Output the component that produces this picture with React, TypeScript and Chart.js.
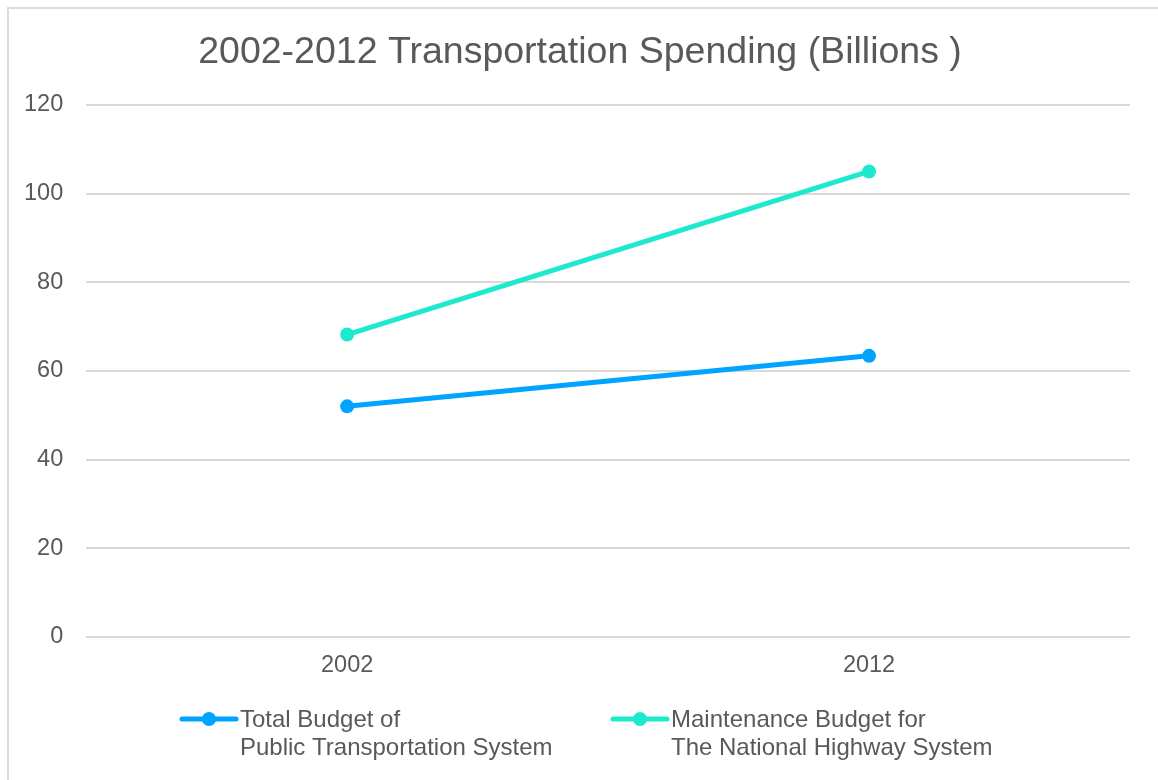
import React, { useEffect, useRef } from "react";
import { Chart, registerables } from "chart.js";

Chart.register(...registerables);

const categories = ["2002", "2012"];
const publicTransit = [52, 63.4];
const highwayMaintenance = [68.2, 105];
const seriesNames = ["Total Budget of Public Transportation System", "Maintenance Budget for The National Highway System"];
const legendLines = [
  ["Total Budget of", "Public Transportation System"],
  ["Maintenance Budget for", "The National Highway System"],
];
const yTicks = [0, 20, 40, 60, 80, 100, 120];
const titleText = "2002-2012 Transportation Spending (Billions )";

const BLUE = "#00a3ff";
const TEAL = "#1de9cf";
const TEXT = "#595959";
const GRID = "#d9d9d9";
const FONT = "'Liberation Sans', Arial, sans-serif";

const frameAndLegend = {
  id: "frameAndLegend",
  afterLayout(chart: any) {
    const t = chart.titleBlock;
    if (t) {
      t.left += 14.5;
      t.right += 14.5;
    }
  },
  beforeDraw(chart: any) {
    const ctx = chart.ctx;
    ctx.save();
    ctx.fillStyle = "#ffffff";
    ctx.fillRect(0, 0, chart.width, chart.height);
    ctx.strokeStyle = "#dcdcdc";
    ctx.lineWidth = 2;
    ctx.strokeRect(8, 8, chart.width + 20, chart.height + 20);
    ctx.restore();
  },
  afterDraw(chart: any) {
    const ctx = chart.ctx;
    const starts = [182, 613];
    const y = 719;
    ctx.save();
    chart.data.datasets.forEach((ds: any, i: number) => {
      const x0 = starts[i];
      ctx.strokeStyle = ds.borderColor;
      ctx.lineWidth = 5;
      ctx.lineCap = "round";
      ctx.beginPath();
      ctx.moveTo(x0, y);
      ctx.lineTo(x0 + 54, y);
      ctx.stroke();
      ctx.fillStyle = ds.borderColor;
      ctx.beginPath();
      ctx.arc(x0 + 27, y, 7, 0, Math.PI * 2);
      ctx.fill();
      ctx.fillStyle = TEXT;
      ctx.font = `24px ${FONT}`;
      ctx.textBaseline = "middle";
      ctx.textAlign = "left";
      legendLines[i].forEach((line, j) => {
        ctx.fillText(line, x0 + 58, y + 1 + j * 28);
      });
    });
    ctx.restore();
  },
};

export default function App() {
  const ref = useRef<HTMLCanvasElement | null>(null);
  useEffect(() => {
    if (!ref.current) return;
    const chart = new Chart(ref.current, {
      type: "line",
      data: {
        labels: categories,
        datasets: [
          {
            label: seriesNames[0],
            data: publicTransit,
            borderColor: BLUE,
            backgroundColor: BLUE,
            borderWidth: 5,
            pointRadius: 7,
            pointHoverRadius: 7,
            pointBackgroundColor: BLUE,
            pointBorderWidth: 0,
            tension: 0,
          },
          {
            label: seriesNames[1],
            data: highwayMaintenance,
            borderColor: TEAL,
            backgroundColor: TEAL,
            borderWidth: 5,
            pointRadius: 7,
            pointHoverRadius: 7,
            pointBackgroundColor: TEAL,
            pointBorderWidth: 0,
            tension: 0,
          },
        ],
      },
      options: {
        animation: false,
        responsive: true,
        maintainAspectRatio: false,
        layout: { padding: { left: 1, right: 28, top: 0, bottom: 85 } },
        plugins: {
          legend: { display: false },
          tooltip: { enabled: false },
          title: {
            display: true,
            text: titleText,
            color: TEXT,
            font: { family: FONT, size: 37.5, weight: "normal" },
            padding: { top: 30.5, bottom: 29.5 },
          },
        },
        scales: {
          x: {
            offset: true,
            grid: { display: false, drawTicks: false },
            border: { display: false },
            ticks: { color: TEXT, font: { family: FONT, size: 23.5 }, padding: 15 },
          },
          y: {
            min: 0,
            max: 120,
            afterBuildTicks: (scale: any) => {
              scale.ticks = yTicks.map((v) => ({ value: v }));
            },
            grid: { color: GRID, lineWidth: 2, drawTicks: false },
            border: { display: false },
            ticks: { color: TEXT, font: { family: FONT, size: 23.5 }, padding: 23 },
          },
        },
      },
      plugins: [frameAndLegend],
    });
    return () => chart.destroy();
  }, []);
  return (
    <div style={{ position: "absolute", left: 0, top: 0, width: 1158, height: 780 }}>
      <canvas ref={ref} />
    </div>
  );
}
